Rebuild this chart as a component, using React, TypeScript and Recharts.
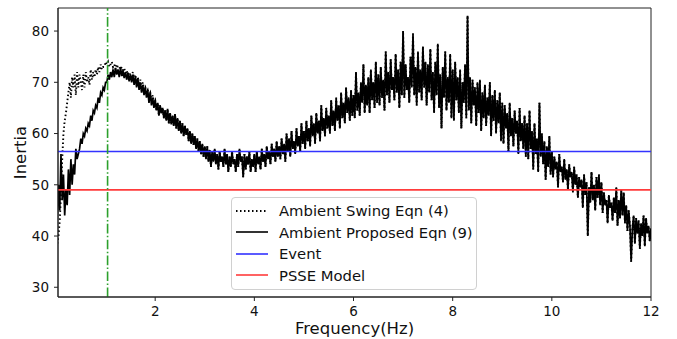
import React from 'react';
import {
  LineChart,
  Line,
  XAxis,
  YAxis,
  ReferenceLine,
  ReferenceArea,
} from 'recharts';

// sample grid, 0.025 Hz spacing from 0.025 to 12 Hz
const freq = Array.from({ length: 480 }, (_, i) => +((i + 1) * 0.025).toFixed(3));

// Ambient Proposed Eqn (9) - solid black, one row per 0.5 Hz
const proposed = [
  43, 50, 45, 56, 47, 52, 44, 49, 46, 53, 48, 55, 50, 54, 52, 57, 55, 56, 57, 59,
  58, 60, 59.5, 61, 60.5, 62, 61.5, 63.5, 62.5, 64.5, 64, 65.5, 65, 67, 66, 68, 67.5, 69, 68.5, 70,
  70, 71.5, 70.5, 72, 71, 72.5, 71, 72.8, 71.5, 72.5, 71, 72.8, 71.2, 72.3, 70.8, 72, 70.5, 71.8, 70.2, 71.5,
  70, 71.5, 69.5, 71, 69, 70.8, 68.5, 70, 68, 69.5, 67.5, 69, 67, 68.5, 66, 68, 65.5, 67, 65, 66.5,
  64.5, 66, 63.5, 65.5, 64, 65, 63, 64.5, 62.5, 64.8, 62, 64, 61.8, 63.5, 61.5, 63.8, 61, 63, 60.5, 62.5,
  60, 62, 59.5, 61.5, 59.8, 61, 58.5, 60.5, 58, 60, 57.8, 59.5, 57, 59, 56.5, 58.5, 56, 58, 55.5, 57.5,
  55, 57.5, 54.5, 56.8, 53.5, 56.5, 54.5, 57, 54, 56, 53, 56.5, 54.5, 55.5, 53.5, 57, 54, 56, 52.5, 55.5,
  53.5, 56.5, 54, 55, 52.5, 56, 53.5, 57, 54.5, 55.5, 51.5, 56, 53, 55.5, 54, 56.5, 52.5, 55, 53.5, 56,
  52.5, 56.5, 54, 55.5, 53, 57, 54.5, 56, 53.5, 57.5, 55, 56.5, 54, 58, 55.5, 57, 54.5, 58.5, 55.5, 57.5,
  55, 59, 56, 58, 54.5, 60, 56.5, 59, 55.5, 60.5, 57, 58.5, 56, 61, 57.5, 59.5, 56.5, 62, 58, 60.5,
  57, 62.5, 58.5, 61, 57.5, 63.5, 59.5, 62, 58, 64, 60, 62.5, 58.5, 65.5, 60.5, 63, 59.5, 65, 61, 63.5,
  60, 66.5, 61.5, 64.5, 60.5, 67, 62.5, 65.5, 61, 68, 63, 66, 62, 69, 64, 67, 62.5, 68.5, 63.5, 67.5,
  63, 72, 64.5, 68, 63.5, 70, 66, 73.5, 64, 69.5, 65.5, 71, 64, 72.5, 66.5, 70, 65, 74, 66, 71.5,
  65.5, 73, 67, 70.5, 64.5, 76, 67.5, 72, 66, 74.5, 68.5, 71, 66.5, 75.5, 68, 72.5, 65, 74, 67.5, 80,
  67, 73.5, 68.5, 71, 66, 75, 69, 79.5, 67.5, 73, 65.5, 76, 68, 72.5, 66.5, 77, 69, 74, 65.5, 73.5,
  68, 76.5, 66.5, 72, 64, 74, 67.5, 77.5, 65, 71.5, 61, 73, 67, 76, 64.5, 71, 66, 75.5, 63, 72.5,
  62.5, 74, 66.5, 71, 64, 72.5, 61, 70, 66, 73.5, 63, 83, 64.5, 71, 62, 70.5, 65.5, 69, 61.5, 70,
  64, 70.5, 60.5, 68, 63, 69.5, 61.5, 67, 63.5, 70, 59.5, 67.5, 62.5, 68.5, 60, 66.5, 62, 68, 58.5, 66,
  58, 65.5, 61, 64, 56.5, 66, 59.5, 63, 57.5, 64.5, 60, 62.5, 56, 65, 58.5, 62, 57, 63.5, 55.5, 62,
  55, 64.5, 57, 60.5, 53, 62, 56, 59, 52.5, 66, 55.5, 60, 54, 58.5, 51, 57.5, 53.5, 59.5, 52, 56.5,
  51.5, 55.5, 53, 54.5, 49.5, 56, 52.5, 53.5, 50.5, 55, 51, 53, 49, 54, 51.5, 52.5, 48.5, 53.5, 50, 52,
  47.5, 51.5, 49.5, 51, 45.5, 52, 48, 50.5, 40, 49.5, 46.5, 52.5, 47, 50, 45, 51.5, 47.5, 52, 46, 50.5,
  44.5, 48.5, 46, 47, 42.5, 48, 45.5, 46.5, 43, 47.5, 44.5, 49.5, 42, 47, 43.5, 49, 44, 48.5, 42.5, 46,
  41, 45, 42, 35, 41.5, 44, 38.5, 43.5, 40.5, 43, 37.5, 42.5, 40, 44, 38, 43.5, 40.5, 42, 39, 41.5,
];

// Ambient Swing Eqn (4) - dotted, differs below 2 Hz, follows the solid trace after
const swingLow = [
  38.5, 40, 43, 48, 55, 60, 62.5, 64, 66, 68, 70, 67, 71, 69, 71.5, 67.5, 72, 69, 71.5, 70,
  68.5, 71.5, 69, 72, 70, 71, 69.5, 72.5, 70.5, 72, 71, 72.5, 71.5, 73, 72, 73.5, 72.5, 73, 73, 74,
  73.5, 74, 73, 73.5, 74, 73, 73.5, 72.5, 73.5, 72.8, 73, 72.5, 73, 72, 72.8, 71.8, 72.3, 71.5, 72, 71.5,
  71, 72, 70.5, 71.5, 70, 71, 69.5, 70.5, 69, 70, 68.5, 69, 68, 68.5, 67.5, 68, 66.5, 67.5, 66, 66.5,
];
const swing = [...swingLow, ...proposed.slice(swingLow.length)];

const eventLevel = 56.5;
const psseLevel = 49;
const markerFreq = 1.04;

const xDomain: [number, number] = [0.04, 12];
const yDomain: [number, number] = [28.1, 84.5];
const xTicks = [2, 4, 6, 8, 10, 12];
const yTicks = [30, 40, 50, 60, 70, 80];

const data = freq.map((f, i) => ({ f, swing: swing[i], proposed: proposed[i] }));

const FONT = '"DejaVu Sans", sans-serif';

const legendItems = [
  { name: 'Ambient Swing Eqn (4)', color: '#000', dash: '1.5 2.5' },
  { name: 'Ambient Proposed Eqn (9)', color: '#000', dash: undefined },
  { name: 'Event', color: '#3333ff', dash: undefined },
  { name: 'PSSE Model', color: '#ff3b3b', dash: undefined },
];

const LegendBox = () => (
  <div
    style={{
      position: 'absolute',
      left: 231,
      top: 197,
      width: 246,
      boxSizing: 'border-box',
      border: '1px solid #d0d0d0',
      borderRadius: 4,
      background: 'rgba(255,255,255,0.85)',
      padding: '2px 0 3px 4px',
      fontFamily: FONT,
      fontSize: 14.8,
      color: '#111',
      whiteSpace: 'nowrap',
    }}
  >
    {legendItems.map((it) => (
      <div key={it.name} style={{ display: 'flex', alignItems: 'center', height: 21.5 }}>
        <svg width={32} height={6} style={{ marginRight: 11, flex: 'none' }}>
          <line
            x1={0}
            y1={3}
            x2={32}
            y2={3}
            stroke={it.color}
            strokeWidth={it.dash ? 2 : 1.6}
            strokeDasharray={it.dash}
          />
        </svg>
        <span>{it.name}</span>
      </div>
    ))}
  </div>
);

export default function App() {
  return (
    <div style={{ position: 'absolute', left: 0, top: 0, width: 677, height: 339, background: '#fff' }}>
      <LineChart width={677} height={339} data={data} margin={{ top: 8, right: 26, bottom: 0, left: 0 }}>
        <XAxis
          dataKey="f"
          type="number"
          domain={xDomain}
          ticks={xTicks}
          allowDataOverflow
          height={42}
          tickSize={4}
          tickMargin={5}
          stroke="#222"
          tick={{ fill: '#111', fontSize: 13.5, fontFamily: FONT }}
          label={{ value: 'Frequency(Hz)', position: 'insideBottom', offset: 5, fill: '#111', fontSize: 16.5, fontFamily: FONT }}
        />
        <YAxis
          type="number"
          domain={yDomain}
          ticks={yTicks}
          allowDataOverflow
          width={58}
          tickSize={4}
          tickMargin={5}
          stroke="#222"
          tick={{ fill: '#111', fontSize: 13.5, fontFamily: FONT }}
          label={{ value: 'Inertia', angle: -90, position: 'insideLeft', offset: 20, fill: '#111', fontSize: 16.5, fontFamily: FONT, style: { textAnchor: 'middle' } }}
        />
        <ReferenceArea x1={xDomain[0]} x2={xDomain[1]} y1={yDomain[0]} y2={yDomain[1]} fill="none" stroke="#222" strokeWidth={1} />
        <Line
          dataKey="swing"
          stroke="#000"
          strokeWidth={1.9}
          strokeDasharray="1.5 2.5"
          dot={false}
          isAnimationActive={false}
        />
        <Line dataKey="proposed" stroke="#000" strokeWidth={1.7} dot={false} isAnimationActive={false} />
        <ReferenceLine y={eventLevel} stroke="#3333ff" strokeWidth={1.6} />
        <ReferenceLine y={psseLevel} stroke="#ff3b3b" strokeWidth={1.6} />
        <ReferenceLine x={markerFreq} stroke="#2ca02c" strokeWidth={1.6} strokeDasharray="9.6 2.4 1.5 2.4" />
      </LineChart>
      <LegendBox />
    </div>
  );
}
